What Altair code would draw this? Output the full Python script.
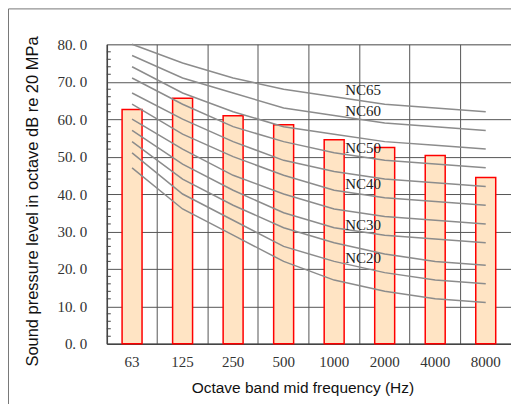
import altair as alt
import pandas as pd

freqs = ["63", "125", "250", "500", "1000", "2000", "4000", "8000"]
spl = [62.6, 65.6, 60.9, 58.5, 54.5, 52.4, 50.3, 44.4]

nc_names = ["NC15", "NC20", "NC25", "NC30", "NC35", "NC40", "NC45", "NC50", "NC55", "NC60", "NC65"]
nc_values = [
    [47, 36, 29, 22, 17, 14, 12, 11],
    [51, 40, 33, 26, 22, 19, 17, 16],
    [54, 44, 37, 31, 27, 24, 22, 21],
    [57, 48, 41, 35, 31, 29, 28, 27],
    [60, 52, 45, 40, 36, 34, 33, 32],
    [64, 56, 50, 45, 41, 39, 38, 37],
    [67, 60, 54, 49, 46, 44, 43, 42],
    [71, 64, 58, 54, 51, 49, 48, 47],
    [74, 67, 62, 58, 56, 54, 53, 52],
    [77, 71, 67, 63, 61, 59, 58, 57],
    [80, 75, 71, 68, 66, 64, 63, 62],
]

label_names = ["NC65", "NC60", "NC50", "NC40", "NC30", "NC20"]
label_freq = ["1000", "1000", "1000", "1000", "1000", "1000"]
label_y = [67.7, 62.2, 52.3, 42.7, 31.7, 22.9]

y_ticks = [0, 10, 20, 30, 40, 50, 60, 70, 80]
minor_ticks = [2, 4, 6, 8, 12, 14, 16, 18, 22, 24, 26, 28, 32, 34, 36, 38,
               42, 44, 46, 48, 52, 54, 56, 58, 62, 64, 66, 68, 72, 74, 76, 78]

bars_df = pd.DataFrame({"freq": freqs, "spl": spl})
rows = []
for name, vals in zip(nc_names, nc_values):
    for f, v in zip(freqs, vals):
        rows.append({"curve": name, "freq": f, "level": v})
lines_df = pd.DataFrame(rows)
labels_df = pd.DataFrame({"name": label_names, "freq": label_freq, "y": label_y})
ticks_df = pd.DataFrame({"v": minor_ticks})

serif = "Liberation Serif"
sans = "Liberation Sans"

xscale = alt.Scale(domain=freqs, paddingInner=0, paddingOuter=0)
yscale = alt.Scale(domain=[0, 80])

xaxis = alt.Axis(title="Octave band mid frequency (Hz)", labelAngle=0, ticks=False,
                 grid=True, bandPosition=0, gridColor="#555", gridWidth=1,
                 domainColor="#444", domainWidth=1.5,
                 labelFont=serif, labelFontSize=15, labelColor="#333", labelPadding=11,
                 titleFont=sans, titleFontSize=15.5, titleFontWeight="normal", titleColor="#111",
                 titleX=196, titleY=44, titleBaseline="middle", titleAnchor="middle")
yaxis = alt.Axis(title="Sound pressure level in octave dB re 20 MPa", values=y_ticks,
                 labelExpr="replace(format(datum.value, '.1f'), '.', '. ')",
                 labelOverlap=False,
                 ticks=False, grid=True, gridColor="#555", gridWidth=1,
                 domainColor="#444", domainWidth=1.5,
                 labelFont=serif, labelFontSize=15, labelColor="#333", labelPadding=20,
                 titleFont=sans, titleFontSize=16.5, titleFontWeight="normal", titleColor="#111",
                 titleAngle=270, titleX=-74, titleY=157, titleBaseline="middle", titleAlign="center")

bars = alt.Chart(bars_df).mark_bar(size=20, fill="#FFE4C4", stroke="#FF0000", strokeWidth=1.5).encode(
    x=alt.X("freq:N", sort=freqs, scale=xscale, axis=xaxis),
    y=alt.Y("spl:Q", scale=yscale, axis=yaxis),
)

lines = alt.Chart(lines_df).mark_line(color="#8c8c8c", strokeWidth=1.5).encode(
    x=alt.X("freq:N", sort=freqs, scale=xscale, axis=xaxis),
    y=alt.Y("level:Q", scale=yscale, axis=yaxis),
    detail="curve:N",
)

labels = alt.Chart(labels_df).mark_text(align="left", baseline="middle", dx=11, font=serif, fontSize=15, color="#222").encode(
    x=alt.X("freq:N", sort=freqs, scale=xscale, axis=xaxis),
    y=alt.Y("y:Q", scale=yscale, axis=yaxis),
    text="name:N",
)

minor = alt.Chart(ticks_df).mark_rule(color="#444", strokeWidth=1).encode(
    y=alt.Y("v:Q", scale=yscale, axis=yaxis),
    x=alt.value(0),
    x2=alt.value(4),
)

one = pd.DataFrame({"a": [0]})
frame_left = alt.Chart(one).mark_rule(color="#777", strokeWidth=1).encode(
    x=alt.value(-98.5), y=alt.value(-35.5), y2=alt.value(400)
)
frame_top = alt.Chart(one).mark_rule(color="#777", strokeWidth=1).encode(
    x=alt.value(-98.5), x2=alt.value(420), y=alt.value(-35.5)
)

chart = alt.layer(bars, lines, labels, minor, frame_left, frame_top).properties(
    width=405, height=300,
    autosize=alt.AutoSizeParams(type="none"),
    padding={"left": 99, "top": 36, "right": 0, "bottom": 60},
).configure_view(stroke="#999", strokeWidth=1.5).configure(background="white")

chart.save("out.html", embed_options={"renderer": "svg", "actions": False})
